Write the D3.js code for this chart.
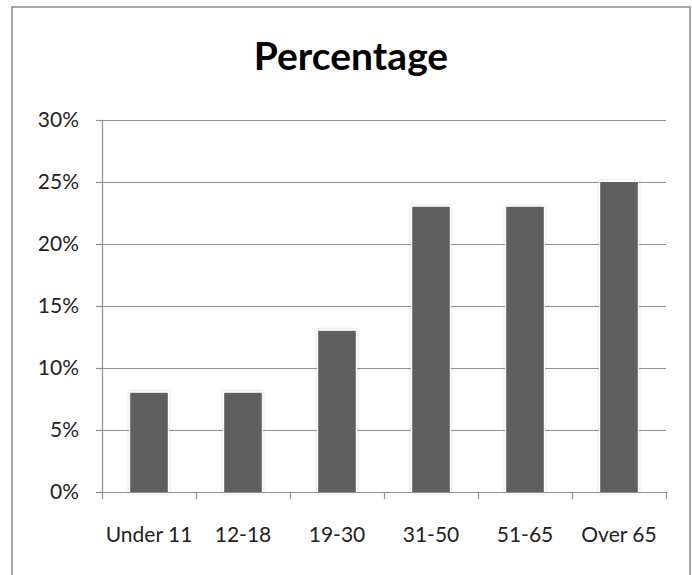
<!DOCTYPE html>
<html>
<head>
<meta charset="utf-8">
<style>
  body { margin: 0; background: #fff; }
  .tick text { font-family: Lato, "Open Sans", sans-serif; fill: #222; }
</style>
</head>
<body>
<div id="chart"></div>
<script src="https://cdn.jsdelivr.net/npm/d3@7"></script>
<script>
  // values
  var categories = ['Under 11', '12-18', '19-30', '31-50', '51-65', 'Over 65'];
  var percentages = [0.08, 0.08, 0.13, 0.23, 0.23, 0.25];
  var yTicks = [0, 0.05, 0.10, 0.15, 0.20, 0.25, 0.30];
  var title = 'Percentage';

  var width = 692, height = 575;
  var margin = { top: 120, right: 26, bottom: 83, left: 102 };

  var svg = d3.select('#chart').append('svg')
    .attr('width', width)
    .attr('height', height);

  // soft shadow round the bars
  var defs = svg.append('defs');
  var filter = defs.append('filter').attr('id', 'glow')
    .attr('x', '-30%').attr('y', '-10%').attr('width', '160%').attr('height', '120%');
  filter.append('feGaussianBlur').attr('in', 'SourceAlpha').attr('stdDeviation', 1.6).attr('result', 'blur');
  filter.append('feComponentTransfer').attr('in', 'blur').attr('result', 'faint')
    .append('feFuncA').attr('type', 'linear').attr('slope', 0.25);
  var merge = filter.append('feMerge');
  merge.append('feMergeNode').attr('in', 'faint');
  merge.append('feMergeNode').attr('in', 'SourceGraphic');

  // chart frame
  svg.append('rect')
    .attr('x', 12).attr('y', 7)
    .attr('width', 678).attr('height', 600)
    .attr('fill', 'none')
    .attr('stroke', '#8c8c8c')
    .attr('stroke-width', 1.5);

  svg.append('text')
    .attr('x', 351)
    .attr('y', 70)
    .attr('text-anchor', 'middle')
    .style('font-family', 'Lato, "Open Sans", sans-serif')
    .style('font-weight', 'bold')
    .style('font-size', '39px')
    .style('fill', '#000')
    .text(title);

  var plotW = width - margin.left - margin.right;
  var plotH = height - margin.top - margin.bottom;
  var g = svg.append('g').attr('transform', 'translate(' + margin.left + ',' + margin.top + ')');

  var x = d3.scaleBand().domain(categories).range([0, plotW]).paddingInner(0.6).paddingOuter(0.3);
  var xTickScale = d3.scaleLinear().domain([0, categories.length]).range([0, plotW]);
  var y = d3.scaleLinear().domain([0, 0.30]).range([plotH, 0]);

  // gridlines
  g.append('g')
    .selectAll('line')
    .data(yTicks.slice(1))
    .enter().append('line')
    .attr('x1', 0).attr('x2', plotW)
    .attr('y1', function (d) { return y(d) + 0.5; })
    .attr('y2', function (d) { return y(d) + 0.5; })
    .attr('stroke', '#8f8f8f')
    .attr('stroke-width', 1.2);

  // y axis
  var yAxis = g.append('g')
    .call(d3.axisLeft(y).tickValues(yTicks).tickFormat(d3.format('.0%')).tickSize(6).tickPadding(17));
  yAxis.select('.domain').attr('stroke', '#8f8f8f').attr('stroke-width', 1.2);
  yAxis.selectAll('.tick line').attr('stroke', '#8f8f8f').attr('stroke-width', 1.2);
  yAxis.selectAll('.tick text').style('font-size', '21px');

  // bars
  g.append('g')
    .selectAll('rect')
    .data(percentages)
    .enter().append('rect')
    .attr('x', function (d, i) { return x(categories[i]); })
    .attr('y', function (d) { return y(d); })
    .attr('width', x.bandwidth())
    .attr('height', function (d) { return plotH - y(d); })
    .attr('fill', '#5f5f5f')
    .attr('stroke', '#fff')
    .attr('stroke-width', 2.5)
    .attr('paint-order', 'stroke')
    .attr('filter', 'url(#glow)');

  // x axis line and ticks at category boundaries
  var xAxis = g.append('g').attr('transform', 'translate(0,' + plotH + ')');
  xAxis.call(d3.axisBottom(xTickScale).tickValues(d3.range(categories.length + 1)).tickFormat('').tickSize(7).tickSizeOuter(0));
  xAxis.select('.domain').attr('stroke', '#8f8f8f').attr('stroke-width', 1.2);
  xAxis.selectAll('.tick line').attr('stroke', '#8f8f8f').attr('stroke-width', 1.2);

  var xLabels = g.append('g').attr('transform', 'translate(0,' + plotH + ')')
    .call(d3.axisBottom(x).tickSize(0).tickPadding(35));
  xLabels.select('.domain').remove();
  xLabels.selectAll('.tick text').style('font-size', '21px');
</script>
</body>
</html>
